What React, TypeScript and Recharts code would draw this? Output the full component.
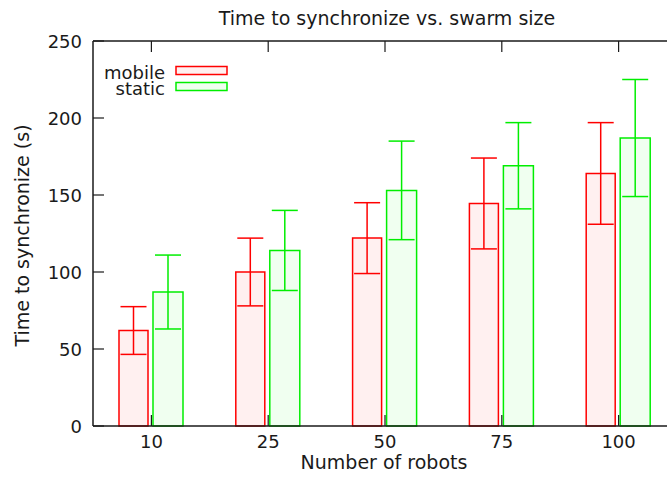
import React from "react";
import { BarChart, Bar, XAxis, YAxis, ErrorBar, Legend } from "recharts";

// Values
const robots = [10, 25, 50, 75, 100];
const mobileTime = [62, 100, 122, 144.5, 164];
const mobileErr = [15.5, 22, 23, 29.5, 33];
const staticTime = [87, 114, 153, 169, 187];
const staticErr = [24, 26, 32, 28, 38];
const yTicks = [0, 50, 100, 150, 200, 250];
const xTicks = robots.map((_, i) => i);

const data = robots.map((r, i) => ({
  idx: i,
  robots: r,
  mobile: mobileTime[i],
  mobileErr: mobileErr[i],
  static: staticTime[i],
  staticErr: staticErr[i],
}));

const FONT = "'DejaVu Sans', sans-serif";
const INK = "#1a1a1a";
const colors: Record<string, { stroke: string; fill: string }> = {
  mobile: { stroke: "#ff0000", fill: "#fff0f0" },
  static: { stroke: "#00ee00", fill: "#f0fff0" },
};

const BottomTick = ({ x, y, payload }: any) => (
  <g>
    <line x1={x} y1={y} x2={x} y2={y - 11} stroke={INK} strokeWidth={1.2} />
    <text x={x} y={y + 22} textAnchor="middle" fontFamily={FONT} fontSize={18} fill={INK}>
      {robots[payload.value]}
    </text>
  </g>
);

const TopTick = ({ x, y }: any) => (
  <line x1={x} y1={y} x2={x} y2={y + 11} stroke={INK} strokeWidth={1.2} />
);

const LeftTick = ({ x, y, payload }: any) => (
  <g>
    <line x1={x} y1={y} x2={x + 11} y2={y} stroke={INK} strokeWidth={1.2} />
    <text x={x - 11} y={y + 7} textAnchor="end" fontFamily={FONT} fontSize={18} fill={INK}>
      {payload.value}
    </text>
  </g>
);

const RightTick = ({ x, y }: any) => (
  <line x1={x} y1={y} x2={x - 11} y2={y} stroke={INK} strokeWidth={1.2} />
);

const renderLegend = (props: any) => (
  <svg width={240} height={110} style={{ display: "block" }}>
    {(props.payload || []).map((p: any, i: number) => {
      const c = colors[p.dataKey] || colors.mobile;
      return (
        <g key={i}>
          <text x={165} y={79 + i * 16} textAnchor="end" fontFamily={FONT} fontSize={18} fill={INK}>
            {p.value}
          </text>
          <rect x={176} y={66.5 + i * 16} width={51} height={8} fill={c.fill} stroke={c.stroke} strokeWidth={1.5} />
        </g>
      );
    })}
  </svg>
);

export default function App() {
  return (
    <div style={{ position: "absolute", left: 0, top: 0, width: 667, height: 477, overflow: "hidden", background: "#fff" }}>
      <BarChart
        width={680}
        height={477}
        data={data}
        margin={{ top: 40, right: 2, bottom: 0, left: 0 }}
        barGap={5}
      >
        <XAxis
          dataKey="idx"
          type="number"
          domain={[-0.5, 4.5]}
          ticks={xTicks}
          allowDataOverflow
          height={51}
          tickSize={0}
          tickMargin={0}
          tickLine={false}
          axisLine={{ stroke: INK, strokeWidth: 1.5 }}
          tick={<BottomTick />}
          label={{
            value: "Number of robots",
            content: ({ viewBox }: any) => (
              <text
                x={viewBox.x + viewBox.width / 2 - 1}
                y={469}
                textAnchor="middle"
                fontFamily={FONT}
                fontSize={19}
                fill={INK}
              >
                Number of robots
              </text>
            ),
          }}
        />
        <XAxis
          xAxisId="top"
          orientation="top"
          dataKey="idx"
          type="number"
          domain={[-0.5, 4.5]}
          ticks={xTicks}
          allowDataOverflow
          height={1}
          tickSize={0}
          tickMargin={0}
          tickLine={false}
          axisLine={{ stroke: INK, strokeWidth: 1.5 }}
          tick={<TopTick />}
          label={{
            value: "Time to synchronize vs. swarm size",
            content: ({ viewBox }: any) => (
              <text
                x={viewBox.x + viewBox.width / 2 + 2}
                y={25}
                textAnchor="middle"
                fontFamily={FONT}
                fontSize={19}
                fill={INK}
              >
                Time to synchronize vs. swarm size
              </text>
            ),
          }}
        />
        <YAxis
          type="number"
          domain={[0, 250]}
          ticks={yTicks}
          width={93}
          tickSize={0}
          tickMargin={0}
          tickLine={false}
          axisLine={{ stroke: INK, strokeWidth: 1.5 }}
          tick={<LeftTick />}
          label={{
            value: "Time to synchronize (s)",
            content: ({ viewBox }: any) => {
              const cy = viewBox.y + viewBox.height / 2 + 2;
              return (
                <text
                  x={29}
                  y={cy}
                  transform={`rotate(-90 29 ${cy})`}
                  textAnchor="middle"
                  fontFamily={FONT}
                  fontSize={19}
                  fill={INK}
                >
                  Time to synchronize (s)
                </text>
              );
            },
          }}
        />
        <YAxis
          yAxisId="right"
          orientation="right"
          type="number"
          domain={[0, 250]}
          ticks={yTicks}
          width={1}
          tickSize={0}
          tickMargin={0}
          tickLine={false}
          axisLine={false}
          tick={<RightTick />}
        />
        <Legend
          layout="vertical"
          align="center"
          verticalAlign="middle"
          wrapperStyle={{ left: 0, top: 0, width: 240, height: 110 }}
          content={renderLegend}
        />
        <Bar
          dataKey="mobile"
          name="mobile"
          fill={colors.mobile.fill}
          stroke={colors.mobile.stroke}
          strokeWidth={1.5}
          barSize={29}
          isAnimationActive={false}
        >
          <ErrorBar dataKey="mobileErr" direction="y" width={13} stroke={colors.mobile.stroke} strokeWidth={1.5} />
        </Bar>
        <Bar
          dataKey="static"
          name="static"
          fill={colors.static.fill}
          stroke={colors.static.stroke}
          strokeWidth={1.5}
          barSize={30}
          isAnimationActive={false}
        >
          <ErrorBar dataKey="staticErr" direction="y" width={13} stroke={colors.static.stroke} strokeWidth={1.5} />
        </Bar>
      </BarChart>
    </div>
  );
}
